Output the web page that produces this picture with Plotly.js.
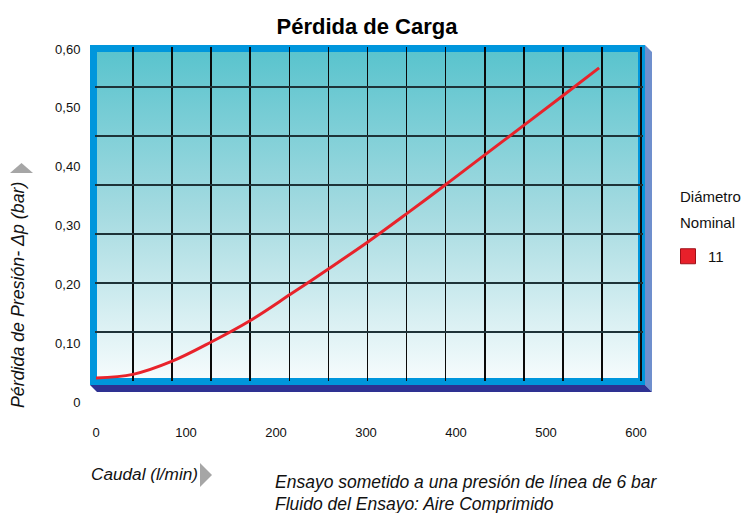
<!DOCTYPE html>
<html>
<head>
<meta charset="utf-8">
<script src="https://cdn.plot.ly/plotly-3.0.1.min.js"></script>
<style>html,body{margin:0;padding:0;background:#fff;}#chart{width:744px;height:513px;}</style>
</head>
<body>
<div id="chart"></div>
<script>
// ---- data ----
const caudal = [0, 41, 84, 128, 172, 216, 259, 302, 346, 389, 432, 476, 519, 559];
const perdida = [0.041, 0.047, 0.069, 0.102, 0.139, 0.183, 0.227, 0.272, 0.321, 0.370, 0.420, 0.471, 0.521, 0.568];
const xTickVals = [0, 100, 200, 300, 400, 500, 600];
const xTickText = ['0', '100', '200', '300', '400', '500', '600'];
const yTickVals = [0, 0.1, 0.2, 0.3, 0.4, 0.5, 0.6];
const yTickText = ['0', '0,10', '0,20', '0,30', '0,40', '0,50', '0,60'];
const seriesName = '11';

// ---- layout helpers (pixel -> paper) ----
const W = 744, H = 513;
const PX = x => x / W;
const PY = y => 1 - y / H;
const path = pts => 'M' + pts.map(p => PX(p[0]).toFixed(5) + ',' + PY(p[1]).toFixed(5)).join(' L') + ' Z';

const FONT = 'Liberation Sans, Arial, Helvetica, sans-serif';

const gradSvg = "<svg xmlns='http://www.w3.org/2000/svg' width='10' height='100' viewBox='0 0 10 100' preserveAspectRatio='none'>" +
  "<defs><linearGradient id='g' x1='0' y1='0' x2='0' y2='1'>" +
  "<stop offset='0' stop-color='#58c3cd'/>" +
  "<stop offset='0.5' stop-color='#a6dbe1'/>" +
  "<stop offset='1' stop-color='#f7fcfd'/>" +
  "</linearGradient></defs><rect x='0' y='0' width='10' height='100' fill='url(#g)'/></svg>";
const gradSrc = 'data:image/svg+xml;charset=utf-8,' + encodeURIComponent(gradSvg);

const traces = [
  // empty trace that only carries the grid subplot (x / y)
  {x: [null], y: [null], type: 'scatter', mode: 'markers', xaxis: 'x', yaxis: 'y',
    showlegend: false, hoverinfo: 'skip'},
  {
    x: caudal, y: perdida, type: 'scatter', mode: 'lines',
    line: {color: '#e8232b', width: 3, shape: 'spline', smoothing: 1},
    xaxis: 'x2', yaxis: 'y2', showlegend: false, hoverinfo: 'x+y'
  },
  {
    x: [null], y: [null], type: 'scatter', mode: 'markers', name: seriesName,
    marker: {symbol: 'square', size: 15, color: '#e8202a', line: {color: '#9e1018', width: 1}},
    xaxis: 'x2', yaxis: 'y2', showlegend: true
  }
];

const layout = {
  width: W, height: H,
  margin: {l: 0, r: 0, t: 0, b: 0},
  paper_bgcolor: '#ffffff',
  plot_bgcolor: 'rgba(0,0,0,0)',
  font: {family: FONT, color: '#111', size: 13},
  title: {
    text: 'Pérdida de Carga',
    x: PX(367), xanchor: 'center', y: PY(26), yanchor: 'middle',
    font: {family: FONT, size: 22, weight: 700, color: '#000'}
  },
  // grid axes (no labels): grid lines of the framed box
  xaxis: {
    domain: [PX(95), PX(643)], range: [95, 643],
    tick0: 133, dtick: 39.083,
    showticklabels: false, ticks: '', showgrid: true, gridcolor: '#0a0a0a', gridwidth: 1.6,
    zeroline: false, showline: false, anchor: 'y'
  },
  yaxis: {
    domain: [PY(381), PY(47)], range: [381, 47],
    tick0: 87, dtick: 49,
    showticklabels: false, ticks: '', showgrid: true, gridcolor: '#1e3338', gridwidth: 2.2,
    zeroline: false, showline: false, anchor: 'x'
  },
  // labelled data axes
  xaxis2: {
    domain: [PX(96), PX(636)], range: [0, 600],
    tickvals: xTickVals, ticktext: xTickText,
    ticks: 'outside', ticklen: 18, tickcolor: 'rgba(0,0,0,0)',
    showgrid: false, zeroline: false, showline: false,
    tickfont: {family: FONT, size: 13, color: '#111'},
    anchor: 'y2'
  },
  yaxis2: {
    domain: [PY(402), PY(49)], range: [0, 0.6],
    tickvals: yTickVals, ticktext: yTickText,
    ticks: 'outside', ticklen: 12, tickcolor: 'rgba(0,0,0,0)',
    showgrid: false, zeroline: false, showline: false,
    tickfont: {family: FONT, size: 13, color: '#111'},
    anchor: 'x2'
  },
  images: [{
    source: gradSrc, xref: 'paper', yref: 'paper',
    x: PX(94), y: PY(48), sizex: PX(642) - PX(94), sizey: (382 - 48) / H,
    xanchor: 'left', yanchor: 'top', sizing: 'stretch', layer: 'below'
  }],
  shapes: [
    {type: 'path', xref: 'paper', yref: 'paper', layer: 'below',
      path: path([[645, 45], [652, 52], [652, 392], [645, 385]]),
      fillcolor: '#6f8fcd', line: {width: 0}},
    {type: 'path', xref: 'paper', yref: 'paper', layer: 'below',
      path: path([[90, 385], [645, 385], [652, 392], [97, 392]]),
      fillcolor: '#2e3192', line: {width: 0}},
    {type: 'rect', xref: 'paper', yref: 'paper', layer: 'below',
      x0: PX(93.5), x1: PX(641.5), y0: PY(381.5), y1: PY(48.5),
      line: {color: '#0096dc', width: 7}, fillcolor: 'rgba(0,0,0,0)'},
    // axis arrows
    {type: 'path', xref: 'paper', yref: 'paper', layer: 'above',
      path: path([[10, 173], [33, 173], [21.5, 163]]),
      fillcolor: '#a6a6a6', line: {width: 0}},
    {type: 'path', xref: 'paper', yref: 'paper', layer: 'above',
      path: path([[200, 463], [212, 475], [200, 487]]),
      fillcolor: '#a6a6a6', line: {width: 0}}
  ],
  annotations: [
    {text: 'Pérdida de Presión- Δp (bar)', xref: 'paper', yref: 'paper',
      x: PX(18), y: PY(295), xanchor: 'center', yanchor: 'middle', textangle: -90, showarrow: false,
      font: {family: FONT, size: 17.8, style: 'italic', color: '#111'}},
    {text: 'Caudal (l/min)', xref: 'paper', yref: 'paper',
      x: PX(89), y: PY(474), xanchor: 'left', yanchor: 'middle', showarrow: false,
      font: {family: FONT, size: 17.2, style: 'italic', color: '#111'}},
    {text: 'Ensayo sometido a una presión de línea de 6 bar', xref: 'paper', yref: 'paper',
      x: PX(273), y: PY(482), xanchor: 'left', yanchor: 'middle', showarrow: false,
      font: {family: FONT, size: 17.5, style: 'italic', color: '#111'}},
    {text: 'Fluido del Ensayo: Aire Comprimido', xref: 'paper', yref: 'paper',
      x: PX(273), y: PY(504), xanchor: 'left', yanchor: 'middle', showarrow: false,
      font: {family: FONT, size: 17.5, style: 'italic', color: '#111'}},
    {text: 'Diámetro', xref: 'paper', yref: 'paper',
      x: PX(710), y: PY(196), xanchor: 'center', yanchor: 'middle', showarrow: false,
      font: {family: FONT, size: 15, color: '#111'}},
    {text: 'Nominal', xref: 'paper', yref: 'paper',
      x: PX(707), y: PY(223), xanchor: 'center', yanchor: 'middle', showarrow: false,
      font: {family: FONT, size: 15, color: '#111'}}
  ],
  legend: {
    x: PX(668), y: PY(240), xanchor: 'left', yanchor: 'top',
    bgcolor: 'rgba(0,0,0,0)', borderwidth: 0,
    font: {family: FONT, size: 15, color: '#111'}
  },
  showlegend: true
};

Plotly.newPlot('chart', traces, layout, {displayModeBar: false, staticPlot: true});
</script>
</body>
</html>
